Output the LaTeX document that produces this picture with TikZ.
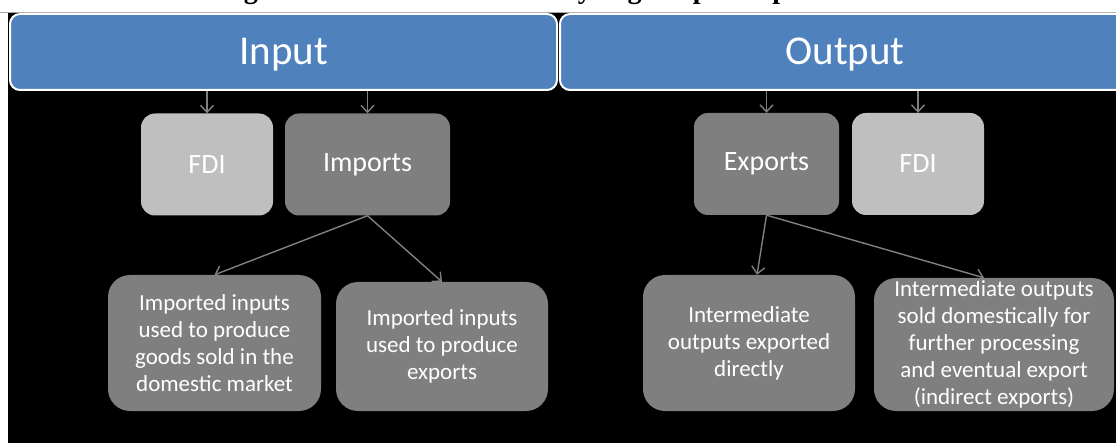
\documentclass[tikz,border=0pt]{standalone}
\usepackage{fontspec}
\setmainfont{Carlito}
\newfontfamily\capfont{Liberation Serif}
\usetikzlibrary{arrows.meta}
\definecolor{hdrblue}{HTML}{4F81BD}
\definecolor{darkbox}{HTML}{7F7F7F}
\definecolor{lightbox}{HTML}{BFBFBF}
\definecolor{arrowgray}{HTML}{808080}
\begin{document}
\begin{tikzpicture}[x=1pt,y=-1pt,
 hdr/.style={draw=white, line width=2pt, fill=hdrblue, rounded corners=10pt, text=white, font=\fontsize{41}{48}\selectfont, inner sep=0pt, text height=26pt, text depth=0pt},
 mid/.style={rounded corners=14pt, text=white, font=\fontsize{28}{34}\selectfont, inner sep=0pt, minimum height=102pt},
 low/.style={fill=darkbox, rounded corners=22pt, text=white, font=\fontsize{23}{27}\selectfont, inner sep=0pt, align=center},
 arr/.style={draw=arrowgray, line width=1.4pt, -{Straight Barb[length=7pt,width=13pt]}}]
\useasboundingbox (0,0) rectangle (1116,443);
\fill[black] (8,13) rectangle (1116,443);
\draw[gray!70, line width=0.8pt] (0,12.5) -- (1116,12.5);
\node[anchor=base, inner sep=0pt, font=\capfont\bfseries\fontsize{28}{32}\selectfont] (cap) at (589,-1) {Figure 3. Framework for analyzing the participation in GVCs};
\node[hdr, minimum width=547pt, minimum height=76pt] (input) at (283.5,52) {Input};
\node[hdr, minimum width=570pt, minimum height=76pt] (output) at (845,52) {Output};
\node[mid, fill=lightbox, minimum width=132pt] (fdiA) at (207,164.5) {FDI};
\node[mid, fill=darkbox, minimum width=165pt] (imports) at (367.5,164.5) {Imports};
\node[mid, fill=darkbox, minimum width=145pt] (exports) at (766.5,164) {Exports};
\node[mid, fill=lightbox, minimum width=132pt] (fdiB) at (918,164) {FDI};
\node[low, minimum width=213pt, minimum height=136pt] (impdom) at (214.5,343) {Imported inputs\\used to produce\\goods sold in the\\domestic market};
\node[low, minimum width=212pt, minimum height=129pt] (impexp) at (442,346.5) {Imported inputs\\used to produce\\exports};
\node[low, minimum width=212pt, minimum height=136pt] (direct) at (749,343) {Intermediate\\outputs exported\\directly};
\node[low, minimum width=240pt, minimum height=133pt] (indirect) at (994,344.5) {Intermediate outputs\\sold domestically for\\further processing\\and eventual export\\(indirect exports)};
\draw[arr] (input.south -| fdiA.north) -- (fdiA.north);
\draw[arr] (input.south -| imports.north) -- (imports.north);
\draw[arr] (output.south -| exports.north) -- (exports.north);
\draw[arr] (output.south -| fdiB.north) -- (fdiB.north);
\draw[arr] (imports.south) -- (impdom.north);
\draw[arr] (imports.south) -- (impexp.north);
\draw[arr] (exports.south) -- ([xshift=8pt]direct.north);
\draw[arr] (exports.south) -- ([xshift=-10pt]indirect.north);
\end{tikzpicture}
\end{document}
